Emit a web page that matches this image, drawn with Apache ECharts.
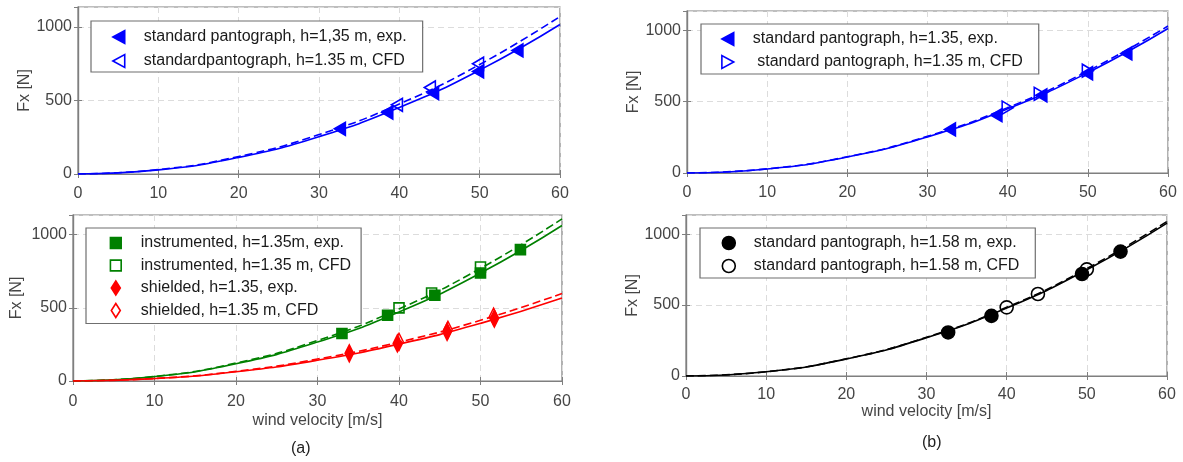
<!DOCTYPE html>
<html><head><meta charset="utf-8">
<script src="https://cdn.jsdelivr.net/npm/echarts@6/dist/echarts.min.js"></script>
<style>html,body{margin:0;padding:0;background:#fff}#c{width:1183px;height:462px}</style>
</head><body><div id="c"></div>
<script>
// ---- data ----
const xTicks = [0, 10, 20, 30, 40, 50, 60];
const yTicks = [0, 500, 1000];
const fitV = [0, 10, 20, 30, 40, 50, 60];

// (a) top: standard pantograph h=1.35 m
const tlExpV = [32.6, 38.5, 44.2, 49.8, 54.7];
const tlExpF = [307, 418, 550, 697, 840];
const tlCfdV = [39.7, 43.8, 49.8];
const tlCfdF = [470, 588, 750];
const tlFitExp = [0, 28, 113, 254, 452, 706, 1016];
const tlFitCfd = [0, 30, 119, 268, 476, 744, 1070];

// (b) top: standard pantograph h=1.35
const trExpV = [32.8, 38.6, 44.2, 49.9, 54.8];
const trExpF = [305, 405, 544, 699, 838];
const trCfdV = [40.0, 44.0, 50.0];
const trCfdF = [458, 555, 717];
const trFitExp = [0, 28, 112, 253, 450, 703, 1012];
const trFitCfd = [0, 29, 114, 257, 458, 715, 1030];

// (a) bottom: instrumented & shielded
const blInstExpV = [33.0, 38.6, 44.4, 50.0, 54.9];
const blInstExpF = [325, 450, 586, 738, 898];
const blInstCfdV = [40.0, 44.0, 50.0];
const blInstCfdF = [500, 602, 779];
const blShExpV = [33.9, 39.8, 45.9, 51.7];
const blShExpF = [189, 257, 336, 427];
const blShCfdV = [40.0, 46.0, 51.6];
const blShCfdF = [268, 350, 440];
const blFitInstExp = [0, 30, 118, 266, 472, 738, 1063];
const blFitInstCfd = [0, 31, 123, 277, 493, 770, 1109];
const blFitShExp = [0, 16, 63, 142, 252, 394, 568];
const blFitShCfd = [0, 17, 66, 150, 266, 415, 598];

// (b) bottom: standard pantograph h=1.58 m
const brExpV = [32.7, 38.1, 49.4, 54.2];
const brExpF = [307, 424, 719, 877];
const brCfdV = [40.0, 43.9, 50.0];
const brCfdF = [484, 578, 752];
const brFitExp = [0, 30, 120, 270, 479, 749, 1078];
const brFitCfd = [0, 30, 121, 273, 484, 757, 1090];

const names = {
  tlExp: 'standard pantograph, h=1,35 m, exp.',
  tlCfd: 'standardpantograph, h=1.35 m, CFD',
  trExp: 'standard pantograph, h=1.35, exp.',
  trCfd: ' standard pantograph, h=1.35 m, CFD',
  blInstExp: 'instrumented, h=1.35m, exp.',
  blInstCfd: 'instrumented, h=1.35 m, CFD',
  blShExp: 'shielded, h=1.35, exp.',
  blShCfd: 'shielded, h=1.35 m, CFD',
  brExp: 'standard pantograph, h=1.58 m, exp.',
  brCfd: 'standard pantograph, h=1.58 m, CFD'
};

// ---- styling / layout ----
const FONT = '"Liberation Sans", Arial, sans-serif';
const BLUE = '#0000ff', GREEN = '#008000', RED = '#ff0000', BLACK = '#000000';
const AX = '#7f7f7f', TXT = '#454545';
const YMAX = 1135;
const SYM = {
  left: 'path://M0,6L11,0L11,12Z',
  right: 'path://M11,6L0,0L0,12Z',
  square: 'path://M0,0L10,0L10,10L0,10Z',
  diamond: 'path://M6,0L12,8.5L6,17L0,8.5Z',
  circle: 'circle'
};
// legend icons (padded so they draw at the reference's size)
const LICON = {
  left: 'path://M0,0M13,13M1,6.5L12,0.5L12,12.5Z',
  right: 'path://M0,0M13,13M12,6.5L1,0.5L1,12.5Z',
  square: 'path://M0,0M13,13M1.5,1.5L11.5,1.5L11.5,11.5L1.5,11.5Z',
  diamond: 'path://M0,0M13,14M6.5,0L11,7L6.5,14L2,7Z',
  circle: 'path://M0,0M13,13M12.5,6.5A6,6,0,1,1,0.5,6.5A6,6,0,1,1,12.5,6.5Z'
};
const grids = [
  {left: 78, top: 7, width: 482, height: 167},
  {left: 687, top: 11, width: 481, height: 162},
  {left: 73, top: 215, width: 489, height: 166},
  {left: 686, top: 215, width: 481, height: 161}
];
const yNameGap = [45, 41, 48, 40];
const xNameGap = [0, 0, 32, 27];
const xLabelMargin = [12, 12, 13, 11];

const zip = (a, b) => a.map((v, i) => [v, b[i]]);

const xAxis = [], yAxis = [], series = [], legend = [];
grids.forEach((g, i) => {
  xAxis.push({
    type: 'value', gridIndex: i, min: xTicks[0], max: xTicks[xTicks.length - 1], interval: xTicks[1] - xTicks[0],
    name: xNameGap[i] ? 'wind velocity [m/s]' : '', nameLocation: 'middle', nameGap: xNameGap[i],
    nameTextStyle: {fontFamily: FONT, fontSize: 16, color: TXT},
    axisLine: {show: true, lineStyle: {color: AX, width: 1.2}},
    axisTick: {show: true, inside: true, length: 4, lineStyle: {color: AX}},
    axisLabel: {fontFamily: FONT, fontSize: 16, color: TXT, margin: xLabelMargin[i], formatter: v => String(v)},
    splitLine: {show: true, lineStyle: {color: '#dcdcdc', type: [6, 4], width: 1}}
  });
  xAxis.push({
    type: 'value', gridIndex: i, position: 'top', min: xTicks[0], max: xTicks[xTicks.length - 1], interval: xTicks[1] - xTicks[0],
    axisLine: {show: true, lineStyle: {color: AX, width: 1.2}},
    axisTick: {show: true, inside: true, length: 4, lineStyle: {color: AX}},
    axisLabel: {show: false}, splitLine: {show: false}
  });
  yAxis.push({
    type: 'value', gridIndex: i, min: yTicks[0], max: YMAX, interval: yTicks[1] - yTicks[0],
    name: 'Fx [N]', nameLocation: 'middle', nameGap: yNameGap[i],
    nameTextStyle: {fontFamily: FONT, fontSize: 16, color: TXT},
    axisLine: {show: true, lineStyle: {color: AX, width: 1.2}},
    axisTick: {show: true, inside: true, length: 4, lineStyle: {color: AX}},
    axisLabel: {fontFamily: FONT, fontSize: 16, color: TXT, margin: 6, showMaxLabel: false, formatter: v => String(v)},
    splitLine: {show: true, lineStyle: {color: '#dcdcdc', type: [6, 4], width: 1}}
  });
  yAxis.push({
    type: 'value', gridIndex: i, position: 'right', min: yTicks[0], max: YMAX, interval: yTicks[1] - yTicks[0],
    axisLine: {show: true, lineStyle: {color: AX, width: 1.2}},
    axisTick: {show: true, inside: true, length: 4, lineStyle: {color: AX}},
    axisLabel: {show: false}, splitLine: {show: false}
  });
});

function fit(gi, ys, color, dashed) {
  series.push({
    type: 'line', xAxisIndex: 2 * gi, yAxisIndex: 2 * gi, data: zip(fitV, ys),
    smooth: true, showSymbol: false, silent: true, z: 2,
    lineStyle: {color, width: 1.6, type: dashed ? [8, 4] : 'solid'}
  });
}
function marks(gi, name, vs, fs, color, sym, size, filled) {
  series.push({
    type: 'scatter', name, xAxisIndex: 2 * gi, yAxisIndex: 2 * gi, data: zip(vs, fs),
    symbol: SYM[sym], symbolSize: size, symbolKeepAspect: true, z: 3,
    itemStyle: {color: filled ? color : 'rgba(255,255,255,0)', borderColor: color, borderWidth: 1.6, opacity: 1}
  });
}
function legendItem(name, color, filled, sym) {
  return {name, icon: LICON[sym], itemStyle: {color: filled ? color : '#ffffff', borderColor: color, borderWidth: 1.6, opacity: 1}};
}
function mkLegend(left, top, items, gap, pad) {
  legend.push({
    orient: 'vertical', left, top, data: items, selectedMode: false,
    itemWidth: 14, itemHeight: 14, itemGap: gap, padding: pad,
    backgroundColor: '#ffffff', borderColor: '#6f6f6f', borderWidth: 1.2,
    textStyle: {fontFamily: FONT, fontSize: 16, color: '#1a1a1a', padding: [0, 0, 0, 13]}
  });
}

// (a) top
fit(0, tlFitExp, BLUE, false); fit(0, tlFitCfd, BLUE, true);
marks(0, names.tlExp, tlExpV, tlExpF, BLUE, 'left', [12, 13], true);
marks(0, names.tlCfd, tlCfdV, tlCfdF, BLUE, 'left', [12, 13], false);
mkLegend(91, 21, [legendItem(names.tlExp, BLUE, true, 'left'), legendItem(names.tlCfd, BLUE, false, 'left')], 8, [8, 16, 3, 20]);

// (b) top
fit(1, trFitExp, BLUE, false); fit(1, trFitCfd, BLUE, true);
marks(1, names.trExp, trExpV, trExpF, BLUE, 'left', [12, 13], true);
marks(1, names.trCfd, trCfdV, trCfdF, BLUE, 'right', [12, 13], false);
mkLegend(701, 24, [legendItem(names.trExp, BLUE, true, 'left'), legendItem(names.trCfd, BLUE, false, 'right')], 7, [7, 16, 4, 19]);

// (a) bottom
fit(2, blFitInstExp, GREEN, false); fit(2, blFitInstCfd, GREEN, true);
fit(2, blFitShExp, RED, false); fit(2, blFitShCfd, RED, true);
marks(2, names.blInstExp, blInstExpV, blInstExpF, GREEN, 'square', [10, 10], true);
marks(2, names.blInstCfd, blInstCfdV, blInstCfdF, GREEN, 'square', [10, 10], false);
marks(2, names.blShExp, blShExpV, blShExpF, RED, 'diamond', [12, 17], true);
marks(2, names.blShCfd, blShCfdV, blShCfdF, RED, 'diamond', [12, 17], false);
mkLegend(86, 228, [legendItem(names.blInstExp, GREEN, true, 'square'), legendItem(names.blInstCfd, GREEN, false, 'square'),
  legendItem(names.blShExp, RED, true, 'diamond'), legendItem(names.blShCfd, RED, false, 'diamond')], 6.5, [7, 10, 5, 22]);

// (b) bottom
fit(3, brFitExp, BLACK, false); fit(3, brFitCfd, BLACK, true);
marks(3, names.brExp, brExpV, brExpF, BLACK, 'circle', 13, true);
marks(3, names.brCfd, brCfdV, brCfdF, BLACK, 'circle', 13, false);
mkLegend(700, 228, [legendItem(names.brExp, BLACK, true, 'circle'), legendItem(names.brCfd, BLACK, false, 'circle')], 7, [7, 16, 4, 21]);

const chart = echarts.init(document.getElementById('c'), null, {renderer: 'canvas'});
chart.setOption({
  backgroundColor: '#ffffff',
  animation: false,
  grid: grids.map(g => Object.assign({show: true, borderColor: AX, borderWidth: 1.2, backgroundColor: '#ffffff'}, g)),
  xAxis, yAxis, series, legend,
  graphic: [
    {type: 'text', left: 291, top: 441, style: {text: '(a)', font: '16px ' + FONT, fill: '#222'}},
    {type: 'text', left: 922, top: 435, style: {text: '(b)', font: '16px ' + FONT, fill: '#222'}}
  ]
});
</script>
</body></html>
